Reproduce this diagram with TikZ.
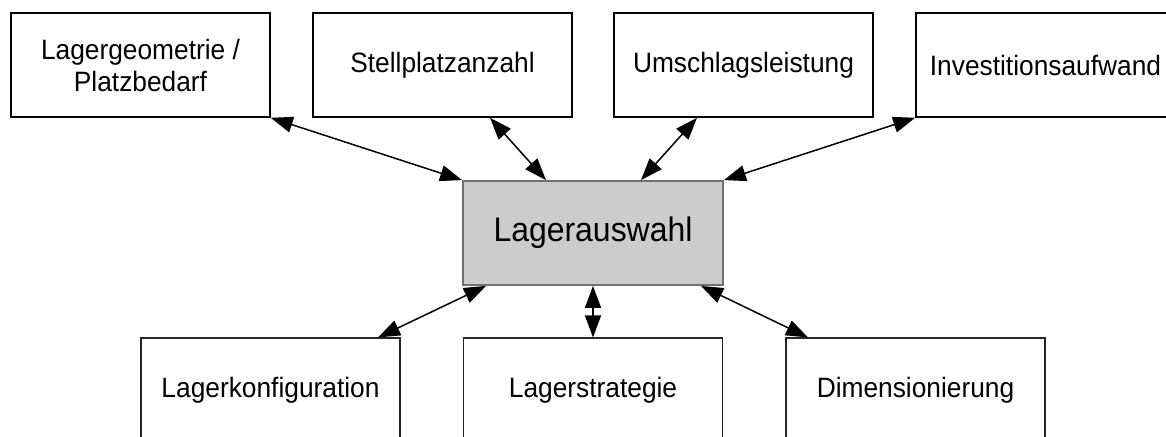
\documentclass[tikz,border=0pt]{standalone}
\usepackage{fontspec}
\setmainfont{Liberation Sans}
\newfontfamily\boxfont[FakeStretch=0.94]{Liberation Sans}
\usetikzlibrary{arrows.meta,calc}
\definecolor{centerfill}{RGB}{204,204,204}
\definecolor{centerline}{RGB}{112,112,112}
\begin{document}
\begin{tikzpicture}[x=1pt,y=-1pt,
  topbox/.style={draw=black,line width=1.6pt,minimum width=259pt,minimum height=104pt,inner sep=0pt,align=center,
    font=\boxfont\fontsize{28}{32}\selectfont},
  botbox/.style={draw=black!85,line width=1.1pt,minimum width=259pt,minimum height=104pt,inner sep=0pt,align=center,
    font=\boxfont\fontsize{28}{32}\selectfont},
  centerbox/.style={draw=centerline,fill=centerfill,line width=1.8pt,minimum width=260pt,minimum height=104pt,inner sep=0pt,
    font=\boxfont\fontsize{34}{38}\selectfont},
  link/.style={line width=1.5pt,{Triangle[length=22pt,width=16pt]}-{Triangle[length=22pt,width=16pt]}}
]
\useasboundingbox (0,0) rectangle (1166,436);
\clip (0,0) rectangle (1166,436);
\node[topbox] (geo) at (140.5,65) {Lagergeometrie /\\Platzbedarf};
\node[topbox] (stell) at (442.5,65) {Stellplatzanzahl};
\node[topbox] (umschl) at (743.5,65) {Umschlagsleistung};
\node[topbox] (invest) at (1045.5,65) {Investitionsaufwand};
\node[centerbox] (wahl) at (593,233) {Lagerauswahl};
\node[botbox] (konf) at (270.5,390) {Lagerkonfiguration};
\node[botbox] (strat) at (593,390) {Lagerstrategie};
\node[botbox] (dim) at (915.5,390) {Dimensionierung};

\draw[link] (geo.south east) -- (wahl.north west);
\draw[link] ($(stell.south)+(47.5,0)$) -- ($(wahl.north)+(-47,0)$);
\draw[link] ($(umschl.south)+(-46.5,0)$) -- ($(wahl.north)+(48,0)$);
\draw[link] (invest.south west) -- (wahl.north east);
\draw[link] ($(wahl.south)+(-107,0)$) -- ($(konf.north)+(107.5,0)$);
\draw[link] (wahl.south) -- (strat.north);
\draw[link] ($(wahl.south)+(108,0)$) -- ($(dim.north)+(-107.5,0)$);
\end{tikzpicture}
\end{document}
